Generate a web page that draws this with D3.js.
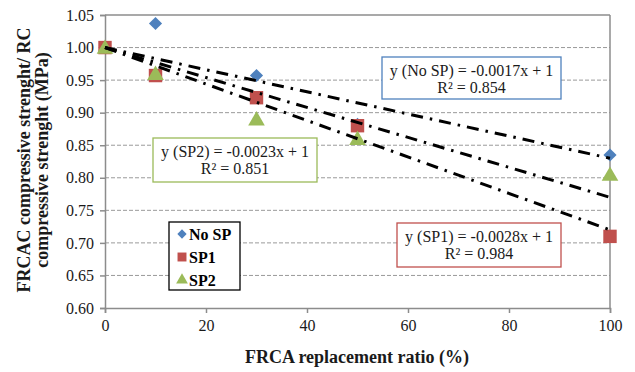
<!DOCTYPE html>
<html>
<head>
<meta charset="utf-8">
<script src="https://cdn.jsdelivr.net/npm/d3@7"></script>
<style>
  html, body { margin: 0; padding: 0; background: #fff; }
</style>
</head>
<body>
<svg id="chart" width="635" height="372"></svg>
<script>
// Replacement ratio (%) and strength ratios per superplasticizer series
const noSpX  = [0, 10, 30, 50, 100];
const noSpY  = [1.0, 1.037, 0.957, 0.882, 0.835];
const sp1X   = [0, 10, 30, 50, 100];
const sp1Y   = [1.0, 0.957, 0.923, 0.88, 0.71];
const sp2X   = [0, 10, 30, 50, 100];
const sp2Y   = [1.0, 0.96, 0.89, 0.86, 0.805];

// Linear fits (intercept fixed at 1)
const seriesNames = ["No SP", "SP1", "SP2"];
const slopes      = [-0.0017, -0.0028, -0.0023];
const r2Values    = ["0.854", "0.984", "0.851"];

const xTicks = [0, 20, 40, 60, 80, 100];
const yTicks = [0.60, 0.65, 0.70, 0.75, 0.80, 0.85, 0.90, 0.95, 1.00, 1.05];

const colors = { "No SP": "#4f81bd", "SP1": "#c0504d", "SP2": "#9bbb59" };
const serif = "Liberation Serif";

const svg = d3.select("#chart");
const plotL = 105, plotR = 610, plotT = 15, plotB = 308;

const x = d3.scaleLinear().domain([0, 100]).range([plotL, plotR]);
const y = d3.scaleLinear().domain([0.60, 1.05]).range([plotB, plotT]);

// Horizontal dashed gridlines
svg.append("g").selectAll("line")
  .data(yTicks.filter(v => v > 0.601 && v < 1.049))
  .join("line")
  .attr("x1", plotL).attr("x2", plotR)
  .attr("y1", d => y(d)).attr("y2", d => y(d))
  .attr("stroke", "#9a9a9a").attr("stroke-width", 1)
  .attr("stroke-dasharray", "4,2");

// Plot frame (top and right)
svg.append("line").attr("x1", plotL).attr("x2", plotR).attr("y1", plotT).attr("y2", plotT)
  .attr("stroke", "#8c8c8c").attr("stroke-width", 1.5);
svg.append("line").attr("x1", plotR).attr("x2", plotR).attr("y1", plotT).attr("y2", plotB)
  .attr("stroke", "#8c8c8c").attr("stroke-width", 1.5);

// Axes
const yAxis = d3.axisLeft(y).tickValues(yTicks).tickFormat(d3.format(".2f")).tickSize(5).tickPadding(6);
const xAxis = d3.axisBottom(x).tickValues(xTicks).tickFormat(d3.format("d")).tickSize(5).tickPadding(7);

const gy = svg.append("g").attr("transform", `translate(${plotL},0)`).call(yAxis);
const gx = svg.append("g").attr("transform", `translate(0,${plotB})`).call(xAxis);
[gx, gy].forEach(g => {
  g.attr("font-family", serif).attr("font-size", 16);
  g.selectAll("path, line").attr("stroke", "#8c8c8c").attr("stroke-width", 1.5);
  g.selectAll("text").attr("fill", "#1a1a1a");
});

// Marker shapes
const symbolFor = {
  "No SP": d3.symbol().type(d3.symbolDiamond2).size(110),
  "SP1":   d3.symbol().type(d3.symbolSquare).size(180),
  "SP2":   d3.symbol().type(d3.symbolTriangle).size(120)
};

const series = [
  { name: "No SP", xs: noSpX, ys: noSpY },
  { name: "SP1",   xs: sp1X,  ys: sp1Y },
  { name: "SP2",   xs: sp2X,  ys: sp2Y }
];

series.forEach(s => {
  const pts = s.xs.map((v, i) => [v, s.ys[i]]);
  svg.append("g").selectAll("path")
    .data(pts)
    .join("path")
    .attr("d", symbolFor[s.name])
    .attr("transform", d => {
      const dy = s.name === "SP2" ? 1.5 : 0;
      return `translate(${x(d[0])},${y(d[1]) + dy})`;
    })
    .attr("fill", colors[s.name]);
});

// Trend lines drawn over the markers
const trendX = [0, 100];
slopes.forEach(m => {
  svg.append("line")
    .attr("x1", x(trendX[0])).attr("y1", y(1 + m * trendX[0]))
    .attr("x2", x(trendX[1])).attr("y2", y(1 + m * trendX[1]))
    .attr("stroke", "#000").attr("stroke-width", 3)
    .attr("stroke-dasharray", "12,7,2.5,7");
});

// Equation boxes
const eqBoxes = [
  { name: "No SP", x0: 382, y0: 57, w: 179, h: 42 },
  { name: "SP1",   x0: 397, y0: 223, w: 164, h: 44 },
  { name: "SP2",   x0: 153, y0: 138, w: 164, h: 44 }
];
eqBoxes.forEach(b => {
  const i = seriesNames.indexOf(b.name);
  const g = svg.append("g");
  g.append("rect").attr("x", b.x0).attr("y", b.y0).attr("width", b.w).attr("height", b.h)
    .attr("fill", "#fff").attr("stroke", colors[b.name]).attr("stroke-width", 1.3);
  const cx = b.x0 + b.w / 2;
  g.append("text").attr("x", cx).attr("y", b.y0 + 19).attr("text-anchor", "middle")
    .attr("font-family", serif).attr("font-size", 16).attr("fill", "#1a1a1a")
    .text(`y (${b.name}) = ${slopes[i]}x + 1`);
  g.append("text").attr("x", cx).attr("y", b.y0 + 36).attr("text-anchor", "middle")
    .attr("font-family", serif).attr("font-size", 16).attr("fill", "#1a1a1a")
    .text(`R² = ${r2Values[i]}`);
});

// Legend
const lg = svg.append("g");
lg.append("rect").attr("x", 169).attr("y", 222).attr("width", 71).attr("height", 68)
  .attr("fill", "#fff").attr("stroke", "#000").attr("stroke-width", 1.3);
const legendSym = {
  "No SP": d3.symbol().type(d3.symbolDiamond2).size(55),
  "SP1":   d3.symbol().type(d3.symbolSquare).size(80),
  "SP2":   d3.symbol().type(d3.symbolTriangle).size(60)
};
seriesNames.forEach((n, i) => {
  const cy = 234 + i * 23;
  lg.append("path").attr("d", legendSym[n]).attr("transform", `translate(182,${cy})`)
    .attr("fill", colors[n]);
  lg.append("text").attr("x", 189).attr("y", cy + 5.5)
    .attr("font-family", serif).attr("font-size", 16).attr("font-weight", "bold").attr("fill", "#000")
    .text(n);
});

// Axis titles
svg.append("text").attr("x", 357).attr("y", 363).attr("text-anchor", "middle")
  .attr("font-family", serif).attr("font-size", 18).attr("font-weight", "bold").attr("fill", "#1a1a1a")
  .text("FRCA replacement ratio (%)");

const yt = svg.append("text").attr("transform", "translate(0,160) rotate(-90)")
  .attr("text-anchor", "middle").attr("font-family", serif)
  .attr("font-size", 18).attr("font-weight", "bold").attr("fill", "#1a1a1a");
yt.append("tspan").attr("x", 0).attr("y", 30).text("FRCAC compressive strenght/ RC");
yt.append("tspan").attr("x", 0).attr("y", 48).text("compressive strenght (MPa)");
</script>
</body>
</html>
